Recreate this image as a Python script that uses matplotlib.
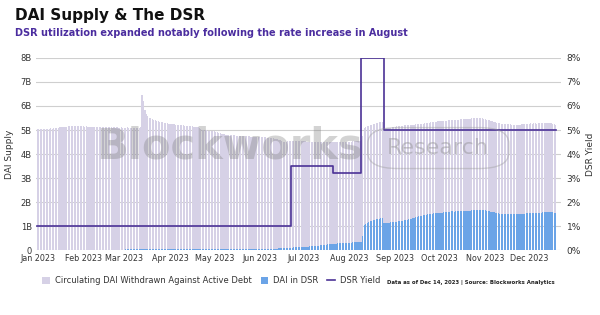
import matplotlib
matplotlib.use("Agg")
import matplotlib.pyplot as plt
import numpy as np
from matplotlib.patches import FancyBboxPatch
from matplotlib.lines import Line2D
from matplotlib.patches import Patch

# ---------------- data (daily, starting Jan 1 2023, in billions) ----------------
total_supply = [
    5.03, 5.04, 5.03, 5.04, 5.05, 5.05, 5.06, 5.05, 5.06, 5.07,
    5.06, 5.08, 5.09, 5.10, 5.10, 5.11, 5.12, 5.13, 5.13, 5.14,
    5.14, 5.15, 5.16, 5.15, 5.16, 5.16, 5.17, 5.16, 5.15, 5.16,
    5.15, 5.15, 5.14, 5.15, 5.14, 5.14, 5.13, 5.14, 5.13, 5.13,
    5.13, 5.12, 5.13, 5.12, 5.12, 5.11, 5.12, 5.11, 5.11, 5.12,
    5.11, 5.10, 5.11, 5.10, 5.11, 5.10, 5.10, 5.11, 5.10, 5.10,
    5.10, 5.11, 5.10, 5.10, 5.09, 5.10, 5.09, 5.10, 5.09, 5.10,
    5.12, 6.45, 6.20, 5.85, 5.65, 5.58, 5.52, 5.48, 5.45, 5.42,
    5.40, 5.38, 5.36, 5.35, 5.33, 5.32, 5.30, 5.29, 5.28, 5.27,
    5.26, 5.25, 5.24, 5.23, 5.22, 5.21, 5.21, 5.20, 5.20, 5.19,
    5.18, 5.18, 5.17, 5.17, 5.16, 5.15, 5.14, 5.13, 5.12, 5.11,
    5.10, 5.06, 5.02, 5.00, 4.99, 4.98, 4.97, 4.97, 4.96, 4.95,
    4.95, 4.93, 4.91, 4.89, 4.87, 4.85, 4.84, 4.82, 4.81, 4.80,
    4.80, 4.79, 4.79, 4.78, 4.78, 4.77, 4.77, 4.76, 4.76, 4.75,
    4.75, 4.75, 4.74, 4.74, 4.74, 4.73, 4.73, 4.73, 4.72, 4.72,
    4.72, 4.71, 4.71, 4.70, 4.70, 4.69, 4.68, 4.68, 4.67, 4.66,
    4.65, 4.64, 4.63, 4.61, 4.59, 4.58, 4.55, 4.52, 4.51, 4.52,
    4.54, 4.55, 4.55, 4.56, 4.55, 4.56, 4.55, 4.55, 4.54, 4.55,
    4.55, 4.54, 4.53, 4.52, 4.52, 4.51, 4.51, 4.50, 4.50, 4.50,
    4.50, 4.49, 4.50, 4.49, 4.50, 4.50, 4.49, 4.50, 4.50, 4.51,
    4.50, 4.50, 4.49, 4.50, 4.51, 4.50, 4.50, 4.51, 4.50, 4.51,
    4.50, 4.51, 4.52, 4.52, 4.53, 4.54, 4.55, 4.55, 4.56, 4.56,
    4.58, 4.75, 5.10, 5.13, 5.15, 5.18, 5.20, 5.22, 5.25, 5.27,
    5.28, 5.30, 5.32, 5.34, 5.35, 5.07, 5.07, 5.08, 5.09, 5.10,
    5.10, 5.11, 5.12, 5.13, 5.15, 5.16, 5.17, 5.18, 5.18, 5.19,
    5.19, 5.20, 5.20, 5.21, 5.21, 5.22, 5.22, 5.23, 5.24, 5.25,
    5.26, 5.27, 5.27, 5.28, 5.29, 5.30, 5.31, 5.32, 5.33, 5.34,
    5.34, 5.35, 5.36, 5.37, 5.37, 5.38, 5.38, 5.39, 5.39, 5.40,
    5.40, 5.41, 5.41, 5.42, 5.42, 5.43, 5.43, 5.44, 5.44, 5.45,
    5.45, 5.46, 5.46, 5.47, 5.47, 5.48, 5.49, 5.50, 5.51, 5.52,
    5.52, 5.51, 5.49, 5.47, 5.45, 5.43, 5.41, 5.40, 5.38, 5.36,
    5.34, 5.32, 5.30, 5.29, 5.28, 5.27, 5.27, 5.26, 5.25, 5.25,
    5.24, 5.23, 5.22, 5.21, 5.21, 5.20, 5.20, 5.21, 5.22, 5.23,
    5.24, 5.25, 5.26, 5.27, 5.27, 5.28, 5.27, 5.28, 5.28, 5.27,
    5.28, 5.28, 5.29, 5.28, 5.29, 5.30, 5.30, 5.31, 5.30, 5.30,
    5.27, 5.23, 5.20,
]

dai_in_dsr = [
    0.00, 0.00, 0.00, 0.00, 0.00, 0.00, 0.00, 0.00, 0.00, 0.00,
    0.00, 0.00, 0.00, 0.00, 0.00, 0.00, 0.00, 0.00, 0.00, 0.00,
    0.00, 0.00, 0.00, 0.00, 0.00, 0.00, 0.00, 0.00, 0.00, 0.00,
    0.00, 0.00, 0.00, 0.00, 0.00, 0.00, 0.00, 0.00, 0.00, 0.00,
    0.00, 0.00, 0.00, 0.00, 0.00, 0.00, 0.00, 0.00, 0.00, 0.00,
    0.00, 0.02, 0.02, 0.02, 0.02, 0.02, 0.02, 0.02, 0.02, 0.02,
    0.03, 0.03, 0.03, 0.03, 0.03, 0.03, 0.03, 0.03, 0.03, 0.03,
    0.03, 0.03, 0.03, 0.03, 0.03, 0.03, 0.03, 0.03, 0.03, 0.03,
    0.04, 0.04, 0.04, 0.04, 0.04, 0.04, 0.04, 0.04, 0.04, 0.04,
    0.04, 0.04, 0.04, 0.04, 0.04, 0.04, 0.04, 0.04, 0.04, 0.04,
    0.04, 0.04, 0.04, 0.04, 0.04, 0.04, 0.04, 0.04, 0.04, 0.04,
    0.05, 0.05, 0.05, 0.05, 0.05, 0.05, 0.05, 0.05, 0.05, 0.05,
    0.05, 0.05, 0.05, 0.05, 0.05, 0.05, 0.05, 0.05, 0.05, 0.05,
    0.05, 0.05, 0.05, 0.05, 0.05, 0.05, 0.05, 0.05, 0.05, 0.05,
    0.05, 0.05, 0.05, 0.05, 0.05, 0.06, 0.06, 0.06, 0.06, 0.06,
    0.06, 0.06, 0.06, 0.06, 0.06, 0.06, 0.06, 0.06, 0.06, 0.06,
    0.06, 0.06, 0.06, 0.06, 0.07, 0.07, 0.07, 0.07, 0.07, 0.07,
    0.08, 0.09, 0.10, 0.10, 0.11, 0.11, 0.11, 0.12, 0.12, 0.13,
    0.13, 0.14, 0.14, 0.15, 0.15, 0.16, 0.17, 0.17, 0.18, 0.18,
    0.19, 0.19, 0.20, 0.21, 0.21, 0.22, 0.23, 0.24, 0.25, 0.25,
    0.26, 0.26, 0.27, 0.27, 0.28, 0.28, 0.29, 0.29, 0.30, 0.30,
    0.30, 0.31, 0.31, 0.31, 0.32, 0.32, 0.32, 0.32, 0.33, 0.33,
    0.35, 0.60, 1.05, 1.10, 1.14, 1.17, 1.20, 1.23, 1.25, 1.27,
    1.29, 1.30, 1.31, 1.32, 1.33, 1.12, 1.11, 1.12, 1.13, 1.14,
    1.15, 1.16, 1.17, 1.18, 1.19, 1.20, 1.21, 1.22, 1.23, 1.24,
    1.25, 1.27, 1.28, 1.30, 1.31, 1.32, 1.34, 1.36, 1.38, 1.40,
    1.42, 1.44, 1.45, 1.47, 1.48, 1.50, 1.51, 1.52, 1.52, 1.53,
    1.53, 1.54, 1.54, 1.55, 1.55, 1.56, 1.57, 1.58, 1.59, 1.60,
    1.60, 1.61, 1.61, 1.60, 1.61, 1.62, 1.61, 1.62, 1.62, 1.62,
    1.62, 1.63, 1.62, 1.63, 1.64, 1.65, 1.66, 1.67, 1.68, 1.69,
    1.69, 1.68, 1.67, 1.66, 1.65, 1.64, 1.63, 1.62, 1.60, 1.58,
    1.57, 1.55, 1.54, 1.53, 1.52, 1.52, 1.51, 1.51, 1.50, 1.50,
    1.50, 1.50, 1.50, 1.50, 1.50, 1.51, 1.51, 1.51, 1.52, 1.52,
    1.52, 1.52, 1.53, 1.53, 1.53, 1.53, 1.54, 1.54, 1.53, 1.53,
    1.54, 1.55, 1.56, 1.57, 1.58, 1.59, 1.60, 1.60, 1.60, 1.59,
    1.57, 1.55, 1.54,
]

# DSR rate changes: day index (from Jan 1) and new rate (%)
dsr_change_days = [0, 172, 201, 220, 235, 352]
dsr_rates = [1.0, 3.49, 3.19, 8.0, 5.0, 5.0]

month_start_days = [0, 31, 59, 90, 120, 151, 181, 212, 243, 273, 304, 334]
month_labels = ["Jan 2023", "Feb 2023", "Mar 2023", "Apr 2023", "May 2023", "Jun 2023",
                "Jul 2023", "Aug 2023", "Sep 2023", "Oct 2023", "Nov 2023", "Dec 2023"]

left_ticks = [0, 1, 2, 3, 4, 5, 6, 7, 8]
left_tick_labels = ["0", "1B", "2B", "3B", "4B", "5B", "6B", "7B", "8B"]
right_tick_labels = ["0%", "1%", "2%", "3%", "4%", "5%", "6%", "7%", "8%"]

# ---------------- styling ----------------
C_CIRC = "#d6d1e6"
C_DSR = "#6ba4e7"
C_LINE = "#4b3296"
C_TEXT = "#333333"

fig = plt.figure(figsize=(6.0, 3.15), dpi=100)
ax = fig.add_axes([0.06, 0.206, 0.875, 0.61])

days = np.arange(len(total_supply))
total = np.array(total_supply)
dsr = np.array(dai_in_dsr)
circ = total - dsr

ax.bar(days, dsr, width=0.75, color=C_DSR, linewidth=0, zorder=2)
ax.bar(days, circ, bottom=dsr, width=0.75, color=C_CIRC, linewidth=0, zorder=2)

ax.set_ylim(0, 8)
ax.set_xlim(-1.0, 355.5)
ax.set_yticks(left_ticks)
ax.set_yticklabels(left_tick_labels)
ax.set_xticks(month_start_days)
ax.set_xticklabels(month_labels)
ax.grid(axis="y", color="#cfcfcf", linewidth=0.8, zorder=0)
ax.set_axisbelow(True)
for s in ax.spines.values():
    s.set_visible(False)
ax.tick_params(axis="y", length=0, labelsize=6, colors=C_TEXT, pad=3)
ax.tick_params(axis="x", length=0, labelsize=5.8, colors=C_TEXT, pad=3)
ax.set_ylabel("DAI Supply", fontsize=6.5, color=C_TEXT, labelpad=5)

ax2 = ax.twinx()
ax2.set_ylim(0, 8)
ax2.set_yticks(left_ticks)
ax2.set_yticklabels(right_tick_labels)
for s in ax2.spines.values():
    s.set_visible(False)
ax2.tick_params(axis="y", length=0, labelsize=6.5, colors=C_TEXT, pad=4)
ax2.set_ylabel("DSR Yield", fontsize=6.5, color=C_TEXT, labelpad=4)
ax2.step(dsr_change_days, dsr_rates, where="post", color=C_LINE, linewidth=1.2, zorder=5)

# watermark
fig.text(0.383, 0.535, "Blockworks", fontsize=30, fontweight="bold", color="#7a7a7a",
         alpha=0.33, ha="center", va="center", zorder=10)
box = FancyBboxPatch((0.618, 0.47), 0.225, 0.12, boxstyle="round,pad=0.005,rounding_size=0.05",
                     transform=fig.transFigure, fill=False, edgecolor="#9a9a9a", alpha=0.4,
                     linewidth=1.0)
fig.patches.append(box)
fig.text(0.73, 0.53, "Research", fontsize=16, color="#8a8a8a", alpha=0.42,
         ha="center", va="center")

# titles
fig.text(0.025, 0.935, "DAI Supply & The DSR", fontsize=11, fontweight="bold", color="#111111")
fig.text(0.025, 0.887, "DSR utilization expanded notably following the rate increase in August",
         fontsize=7.0, fontweight="bold", color="#4b2d9f")

# legend
handles = [
    Patch(facecolor=C_CIRC, edgecolor="none"),
    Patch(facecolor=C_DSR, edgecolor="none"),
    Line2D([0], [0], color=C_LINE, linewidth=1.2),
]
labels = ["Circulating DAI Withdrawn Against Active Debt", "DAI in DSR", "DSR Yield"]
fig.legend(handles, labels, loc="center", bbox_to_anchor=(0.352, 0.108), ncol=3,
           frameon=False, fontsize=6.0, handlelength=0.9, handleheight=0.8,
           columnspacing=1.1, handletextpad=0.6, labelcolor=C_TEXT)

fig.text(0.645, 0.097, "Data as of Dec 14, 2023 | Source: Blockworks Analytics",
         fontsize=3.9, fontweight="bold", color="#222222")

fig.savefig("out.png", dpi=100, facecolor="white")
